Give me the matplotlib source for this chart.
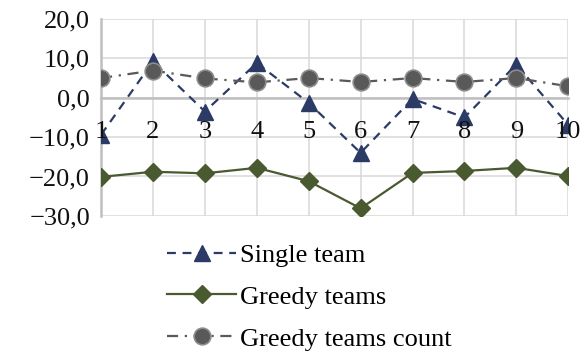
import matplotlib.pyplot as plt
import matplotlib.transforms as mtransforms
import numpy as np
from matplotlib.ticker import FuncFormatter

plt.rcParams['font.family'] = ['Liberation Serif', 'DejaVu Serif']

runs = [1, 2, 3, 4, 5, 6, 7, 8, 9, 10]
single_team = [-9.4, 9.2, -3.5, 8.8, -1.3, -14.0, -0.3, -5.0, 8.4, -6.9]
greedy_teams = [-20.1, -18.8, -19.2, -17.8, -21.2, -28.1, -19.1, -18.6, -17.8, -19.9]
greedy_count = [5.0, 6.9, 4.9, 3.9, 5.0, 4.0, 5.0, 4.0, 5.0, 2.9]
y_ticks = [-30, -20, -10, 0, 10, 20]

fig = plt.figure(figsize=(5.81, 3.51), dpi=100)
ax = fig.add_axes([0.174, 0.385, 0.804, 0.561])

ax.plot(runs, single_team, linestyle=(0, (4, 3)), color='#2B3B66', linewidth=1.6,
        marker='^', markersize=12, markerfacecolor='#2B3B66', markeredgecolor='#2B3B66',
        label='Single team', zorder=3)
ax.plot(runs, greedy_teams, linestyle='-', color='#4A5A30', linewidth=1.6,
        marker='D', markersize=9.5, markerfacecolor='#4A5A30', markeredgecolor='#4A5A30',
        label='Greedy teams', zorder=3)
ax.plot(runs, greedy_count, linestyle=(0, (5, 3, 1, 3)), color='#595959', linewidth=1.6,
        marker='o', markersize=12, markerfacecolor='#595959', markeredgecolor='#8C8C8C',
        markeredgewidth=1.2, label='Greedy teams count', zorder=4)

ax.set_xlim(1, 10)
ax.set_ylim(-30, 20)
ax.set_yticks(y_ticks)
ax.yaxis.set_major_formatter(FuncFormatter(
    lambda v, p: ('\u2212' if v < 0 else '') + f'{abs(v):.1f}'.replace('.', ',')))
ax.set_xticks(runs)
ax.set_xticklabels([])

# category axis crosses at zero
ax.spines['bottom'].set_position(('data', 0))
ax.spines['bottom'].set_color('#BFBFBF')
ax.spines['bottom'].set_linewidth(1.8)
ax.spines['bottom'].set_zorder(2)
ax.spines['left'].set_color('#BFBFBF')
ax.spines['left'].set_linewidth(1.8)
ax.spines['top'].set_visible(False)
ax.spines['right'].set_visible(False)

ax.grid(True, color='#D9D9D9', linewidth=1.1)
ax.set_axisbelow(True)
ax.tick_params(axis='both', length=0, labelsize=19, labelcolor='#111111')
ax.tick_params(axis='y', pad=8)

# category labels sit under the zero line, on top of the series
below = mtransforms.offset_copy(ax.transData, fig=fig, x=0, y=-17, units='points')
for r in runs:
    ax.text(r, 0, str(r), transform=below, ha='center', va='top',
            fontsize=19, color='#111111', zorder=6, clip_on=False)

fig.legend(loc='upper left', bbox_to_anchor=(0.27, 0.337), frameon=False,
           fontsize=19, handlelength=2.6, handletextpad=0.15, labelspacing=0.7,
           borderaxespad=0)

fig.savefig('out.png', dpi=100)
